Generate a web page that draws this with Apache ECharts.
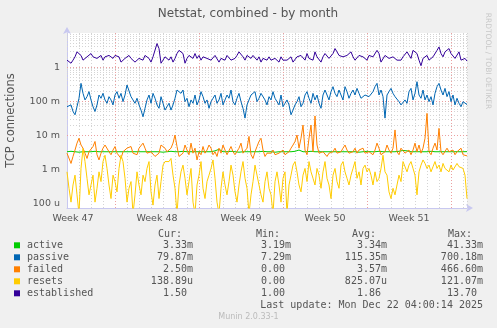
<!DOCTYPE html>
<html><head><meta charset="utf-8">
<script src="https://cdn.jsdelivr.net/npm/echarts@6/dist/echarts.min.js"></script>
<style>html,body{margin:0;padding:0;background:#f0f0f0;}#c{width:497px;height:328px;}</style>
</head><body><div id="c"></div>
<script>
// ---- data (4-hour samples, hours from left edge) ----
const stepHours = 4;
const weekLabels = ['Week 47','Week 48','Week 49','Week 50','Week 51'];
const weekLabelHours = [12, 180, 348, 516, 684];
const weekStartHours = [96, 264, 432, 600, 768];
const yTickValues = [1e-4, 1e-3, 1e-2, 1e-1, 1];
const yTickLabels = ['100 u', '1 m', '10 m', '100 m', '1'];

const seriesNames = ['active','passive','failed','resets','established'];
const seriesColors = ['#00cc00','#0066b3','#ff8000','#ffcc00','#330099'];
const curVals = ['3.33m','79.87m','2.50m','138.89u','1.50'];
const minVals = ['3.19m','7.29m','0.00','0.00','1.00'];
const avgVals = ['3.34m','115.35m','3.57m','825.07u','1.86'];
const maxVals = ['41.33m','700.18m','466.60m','121.07m','13.70'];

// values in milli-units (m) for active, passive, failed, resets
const activeM = [3.3,3.3,3.4,3.3,3.3,3.3,3.2,3.3,3.3,3.4,3.3,3.3,3.3,3.3,3.4,3.3,3.3,3.2,3.3,3.3,
3.3,3.4,3.3,3.3,3.3,3.3,3.3,3.4,3.3,3.3,3.3,3.2,3.3,3.3,3.3,3.4,3.3,3.3,3.3,3.3,
3.3,3.3,3.3,3.4,3.3,3.3,3.3,3.3,3.2,3.3,3.3,3.3,3.4,3.3,3.3,3.3,3.3,3.3,3.4,3.3,
3.3,3.3,3.3,3.2,3.3,3.3,3.3,3.4,3.3,3.3,3.3,3.3,3.3,3.4,3.5,3.6,3.9,3.5,3.3,3.3,
3.3,3.3,3.4,3.3,3.3,3.3,3.2,3.3,3.3,3.3,3.3,3.4,3.3,3.3,3.3,3.3,3.3,3.3,3.4,3.3,
3.3,3.3,3.3,3.3,3.2,3.3,3.3,3.4,3.3,3.3,3.3,3.3,3.3,3.3,3.4,3.5,3.7,3.4,3.3,3.3,
3.3,3.3,3.4,3.3,3.3,3.3,3.3,3.2,3.3,3.3,3.3,3.4,3.3,3.3,3.3,3.3,3.3,3.4,3.3,3.3,
3.3,3.3,3.3,3.4,3.3,3.3,3.2,3.3,3.3,3.3,3.4,3.3,3.3,3.3,3.3,3.3,3.4,3.3,3.3,3.3,
3.3,3.3,3.3,3.4,3.3,3.3,3.4,3.5,3.6,3.8,3.5,3.3,3.3,3.3,3.3,3.4,3.3,3.3,3.3,3.3,
3.3,3.3,3.4,3.3,3.3,3.3,3.3,3.2,3.3,3.3,3.3,3.4,3.3,3.3,3.3,3.3,3.3,3.4,3.3,3.3,3.33];

const passiveM = [69,62,78,50,40,69,122,334,170,109,136,191,109,69,50,78,152,122,170,109,87,136,109,78,152,191,122,170,97,152,299,267,136,109,87,122,78,55,35,62,109,152,87,170,122,78,62,136,87,55,69,
87,55,78,122,213,238,170,213,97,122,69,109,87,152,78,109,191,136,87,109,62,97,122,152,87,109,170,78,109,152,122,213,97,78,122,170,97,62,32,78,109,152,136,191,97,122,170,152,109,78,
136,109,191,122,97,78,152,69,87,109,78,40,55,78,97,136,69,87,152,191,122,87,170,109,152,87,62,152,213,191,109,191,267,170,136,213,152,109,267,191,122,170,213,152,238,170,122,109,152,136,
136,122,191,267,334,152,213,136,32,152,191,238,170,136,122,97,78,69,109,87,191,238,109,170,373,152,122,213,109,152,97,136,78,170,267,334,213,152,238,136,191,97,152,78,122,87,69,97,87,80];

const failedM = [3.0,2.7,1.5,2.4,3.7,5.9,8.2,5.2,4.2,3.0,2.1,3.3,3.7,4.7,6.6,2.7,1.9,3.0,4.2,5.2,5.9,3.3,2.7,3.7,4.7,3.0,2.7,2.1,3.3,3.0,4.2,3.7,4.7,3.0,3.3,2.7,4.2,4.7,5.9,4.2,3.0,2.7,3.3,3.0,2.4,2.7,3.0,5.2,4.7,4.2,3.3,
3.0,4.2,5.9,10.2,4.7,2.4,2.1,3.0,5.2,3.7,2.7,5.9,3.0,4.2,1.9,3.3,2.7,4.7,3.0,3.7,5.2,4.2,2.7,3.3,2.4,4.2,3.0,5.2,3.7,2.7,3.0,4.7,3.3,2.7,2.4,4.2,5.9,3.0,3.3,4.2,9.3,2.7,2.1,3.3,4.7,6.6,8.2,3.7,2.4,3.0,
3.3,3.0,3.7,2.7,2.4,3.0,3.3,3.7,2.7,3.0,3.3,4.2,5.2,6.6,10.2,4.2,8.2,20,3.7,2.7,8.2,20,3.3,37,5.2,3.0,2.7,3.3,3.7,2.4,3.0,2.7,3.3,4.2,3.0,2.7,3.3,4.2,5.2,3.7,3.0,2.7,3.3,4.2,3.0,3.7,3.3,4.2,3.0,3.3,
3.3,3.0,2.7,3.7,5.9,4.2,2.7,2.4,3.3,5.2,3.7,3.0,4.2,14.4,3.3,2.7,4.2,3.7,3.0,3.3,3.7,2.7,3.7,5.9,3.3,5.2,3.0,4.2,8.2,44,3.3,2.7,4.2,5.9,3.7,16,3.3,2.7,3.0,4.2,3.3,3.0,3.7,2.7,3.3,3.0,4.2,2.7,3.0,2.5];

const resetsM = [0.85,0.28,0.11,0.35,0.68,0.18,0.05,1.07,4.1,1.7,0.55,0.18,0.35,0.68,0.11,0.28,0.85,0.44,1.7,2.6,1.07,0.35,0.14,0.68,0.44,0.22,1.07,2.6,1.7,0.55,0.11,0.28,0.44,0.05,0.18,0.85,0.35,0.18,0.68,0.44,1.07,1.7,0.22,0.09,0.35,0.68,0.14,0.44,1.34,1.7,1.9,
1.7,2.1,0.68,0.28,0.05,0.35,0.85,1.34,0.55,0.18,0.44,1.07,0.11,0.05,0.35,0.68,1.7,0.28,0.14,0.44,0.68,1.07,1.9,0.55,0.11,0.05,0.28,0.85,0.35,0.18,0.44,1.34,0.68,0.22,0.11,0.35,0.85,1.7,0.55,0.28,0.05,0.18,0.44,1.34,0.68,0.35,0.18,0.11,0.44,0.85,
0.28,0.18,0.05,0.44,0.85,0.35,0.11,0.55,0.85,0.05,0.35,0.68,1.34,1.7,0.85,0.35,0.22,0.68,1.07,0.44,1.7,0.85,0.55,0.35,1.07,0.68,0.28,0.85,1.7,0.55,0.35,0.14,0.68,1.07,0.44,0.28,1.34,1.7,0.85,0.55,0.35,0.68,1.07,1.7,0.55,0.85,0.35,1.07,1.34,0.85,
1.07,0.68,0.35,0.85,0.44,0.55,1.07,2.6,0.85,0.68,0.22,0.14,0.28,0.18,0.35,0.68,0.44,1.7,1.9,0.85,1.34,1.7,1.07,0.68,0.18,0.85,1.34,1.9,1.5,1.07,1.34,0.85,1.2,1.7,1.07,1.34,0.85,1.5,1.07,1.2,0.85,1.34,0.96,1.07,1.5,1.2,1.34,1.07,0.68,0.139];

const established = [1.6,1.4,1.3,1.6,2.0,2.8,3.1,2.2,1.6,1.4,2.0,2.2,2.5,2.0,2.2,1.8,2.0,2.2,1.6,2.0,1.8,2.2,2.0,1.8,2.2,2.5,2.0,1.4,1.6,1.8,2.0,2.2,1.8,1.6,1.4,1.3,1.8,2.0,1.6,2.2,2.0,1.8,1.4,2.0,2.2,4.9,3.5,1.3,1.6,2.0,1.8,
1.6,2.0,1.4,1.8,2.5,3.1,3.5,2.5,1.3,1.8,2.2,2.0,1.8,2.5,1.8,2.2,1.6,2.0,2.2,1.8,2.0,1.6,1.8,2.2,2.0,1.4,1.8,2.0,1.6,2.2,2.0,1.6,1.4,1.8,2.2,2.8,2.5,2.0,1.6,2.2,2.0,1.8,2.2,2.5,1.6,2.0,1.4,1.8,2.0,1.6,
2.0,1.6,1.4,1.8,1.6,1.4,2.0,1.6,1.4,1.6,1.8,2.0,1.4,1.6,2.0,1.8,2.2,2.0,1.6,2.5,1.8,2.0,1.6,2.8,2.0,1.8,1.4,2.0,2.5,2.2,1.8,2.0,2.5,3.5,2.8,2.2,2.5,2.0,1.8,2.2,2.5,2.8,2.0,1.6,1.8,2.2,2.5,2.0,1.8,1.6,
2.2,2.5,2.0,1.8,3.1,2.5,1.4,1.3,2.2,2.0,1.8,1.6,2.0,1.8,1.6,1.4,1.6,2.0,2.2,2.8,2.5,1.8,3.1,3.5,2.5,1.6,1.1,1.8,2.0,2.2,1.6,1.8,2.0,2.2,3.1,3.9,2.5,2.0,2.8,3.1,3.5,2.5,2.2,1.8,2.0,2.8,1.6,1.4,1.8,1.5];

// ---- build ----
const toPairs = (arr, scale) => arr.map((v, i) => [i * stepHours, v * scale]);
const seriesData = [toPairs(activeM, 1e-3), toPairs(passiveM, 1e-3), toPairs(failedM, 1e-3), toPairs(resetsM, 1e-3), toPairs(established, 1)];

const yMin = 7.4e-5, yMax = 10;
const minorMult = [2,3,4,5,6,7,8,9];
const minorLines = [];
[1e-5,1e-4,1e-3,1e-2,1e-1,1].forEach(d => minorMult.forEach(m => { const v = d*m; if (v > yMin && v < yMax) minorLines.push({yAxis: v}); }));

const chart = echarts.init(document.getElementById('c'), null, {renderer: 'canvas'});
const mono = 'DejaVu Sans Mono';
const textCol = '#555';
const rowY = [245.3, 257.3, 269.3, 281.3, 293.3];
const colRight = [193, 291, 387, 483];
const headers = ['Cur:','Min:','Avg:','Max:'];
const headerLeft = [158, 256, 352, 448];
const pad = s => /[0-9]$/.test(s) ? s + ' ' : s;

const graphics = [];
graphics.push({type:'text', x:248, y:13.5, style:{text:'Netstat, combined - by month', font:'12px "DejaVu Sans"', fill:'#555', align:'center', verticalAlign:'middle'}});
graphics.push({type:'text', x:11, y:120.5, rotation:Math.PI/2, style:{text:'TCP connections', font:'11.5px "DejaVu Sans"', fill:'#555', align:'center', verticalAlign:'middle'}});
graphics.push({type:'text', x:488, y:61, rotation:-Math.PI/2, style:{text:'RRDTOOL / TOBI OETIKER', font:'7.5px "DejaVu Sans"', fill:'#c8c8c8', align:'center', verticalAlign:'middle'}});
headers.forEach((h, j) => graphics.push({type:'text', x:headerLeft[j], y:234, style:{text:h, font:'10px "'+mono+'"', fill:textCol, align:'left', verticalAlign:'middle'}}));
seriesNames.forEach((n, i) => {
  graphics.push({type:'rect', shape:{x:14, y:rowY[i]-3, width:6, height:6}, style:{fill:seriesColors[i]}});
  graphics.push({type:'text', x:27, y:rowY[i], style:{text:n, font:'10px "'+mono+'"', fill:textCol, align:'left', verticalAlign:'middle'}});
  [curVals, minVals, avgVals, maxVals].forEach((col, j) => {
    graphics.push({type:'text', x:colRight[j], y:rowY[i], style:{text:pad(col[i]), font:'10px "'+mono+'"', fill:textCol, align:'right', verticalAlign:'middle'}});
  });
});
graphics.push({type:'text', x:483, y:305.7, style:{text:'Last update: Mon Dec 22 04:00:14 2025', font:'10px "'+mono+'"', fill:textCol, align:'right', verticalAlign:'middle'}});
graphics.push({type:'text', x:248.5, y:317.3, style:{text:'Munin 2.0.33-1', font:'8px "DejaVu Sans"', fill:'#bbbbbb', align:'center', verticalAlign:'middle'}});

const series = [{
  type:'line', name:'grid', data:[], silent:true, z:1,
  markLine:{silent:true, symbol:'none', z:1, animation:false, label:{show:false},
    data: minorLines.map(l => ({...l, lineStyle:{color:'#d4d4d4', type:[1,2], width:1}}))
      .concat(yTickValues.map(v => ({yAxis:v, lineStyle:{color:'#eba0a0', type:[1,2], width:1}})))
      .concat(weekStartHours.map(h => ({xAxis:h, lineStyle:{color:'#eba0a0', type:[1,2], width:1}})))
  }
}].concat(seriesNames.map((n, i) => ({
  type:'line', name:n, data:seriesData[i], showSymbol:false, symbol:'none', animation:false, clip:true, z:3,
  lineStyle:{color:seriesColors[i], width:1}, itemStyle:{color:seriesColors[i]}
})));

chart.setOption({
  backgroundColor:'#f0f0f0',
  animation:false,
  grid:{left:67, right:30, top:33, bottom:120, show:true, backgroundColor:'#ffffff', borderWidth:0},
  xAxis:{type:'value', min:0, max:800, interval:24,
    axisLine:{show:true, lineStyle:{color:'#c8c8f0'}, symbol:['none','arrow'], symbolSize:[6,7], symbolOffset:[0,6]},
    axisTick:{show:false},
    splitLine:{show:true, lineStyle:{color:'#d4d4d4', type:[1,2]}},
    axisLabel:{customValues:weekLabelHours, formatter:(v) => { const k = weekLabelHours.indexOf(v); return k >= 0 ? weekLabels[k] : ''; },
      fontFamily:'DejaVu Sans', fontSize:9.5, color:'#555', margin:6}
  },
  yAxis:{type:'log', logBase:10, min:yMin, max:yMax,
    axisLine:{show:true, lineStyle:{color:'#c8c8f0'}, symbol:['none','arrow'], symbolSize:[6,7], symbolOffset:[0,6]},
    axisTick:{show:false},
    splitLine:{show:false},
    axisLabel:{showMinLabel:false, showMaxLabel:false, fontFamily:'DejaVu Sans', fontSize:9.5, color:'#555', margin:7,
      formatter:(v) => { const e = Math.round(Math.log10(v)); const k = yTickValues.findIndex(t => Math.round(Math.log10(t)) === e); return (k >= 0 && Math.abs(Math.log10(v) - e) < 1e-6) ? yTickLabels[k] : ''; }}
  },
  graphic:graphics,
  series:series
});
</script></body></html>
